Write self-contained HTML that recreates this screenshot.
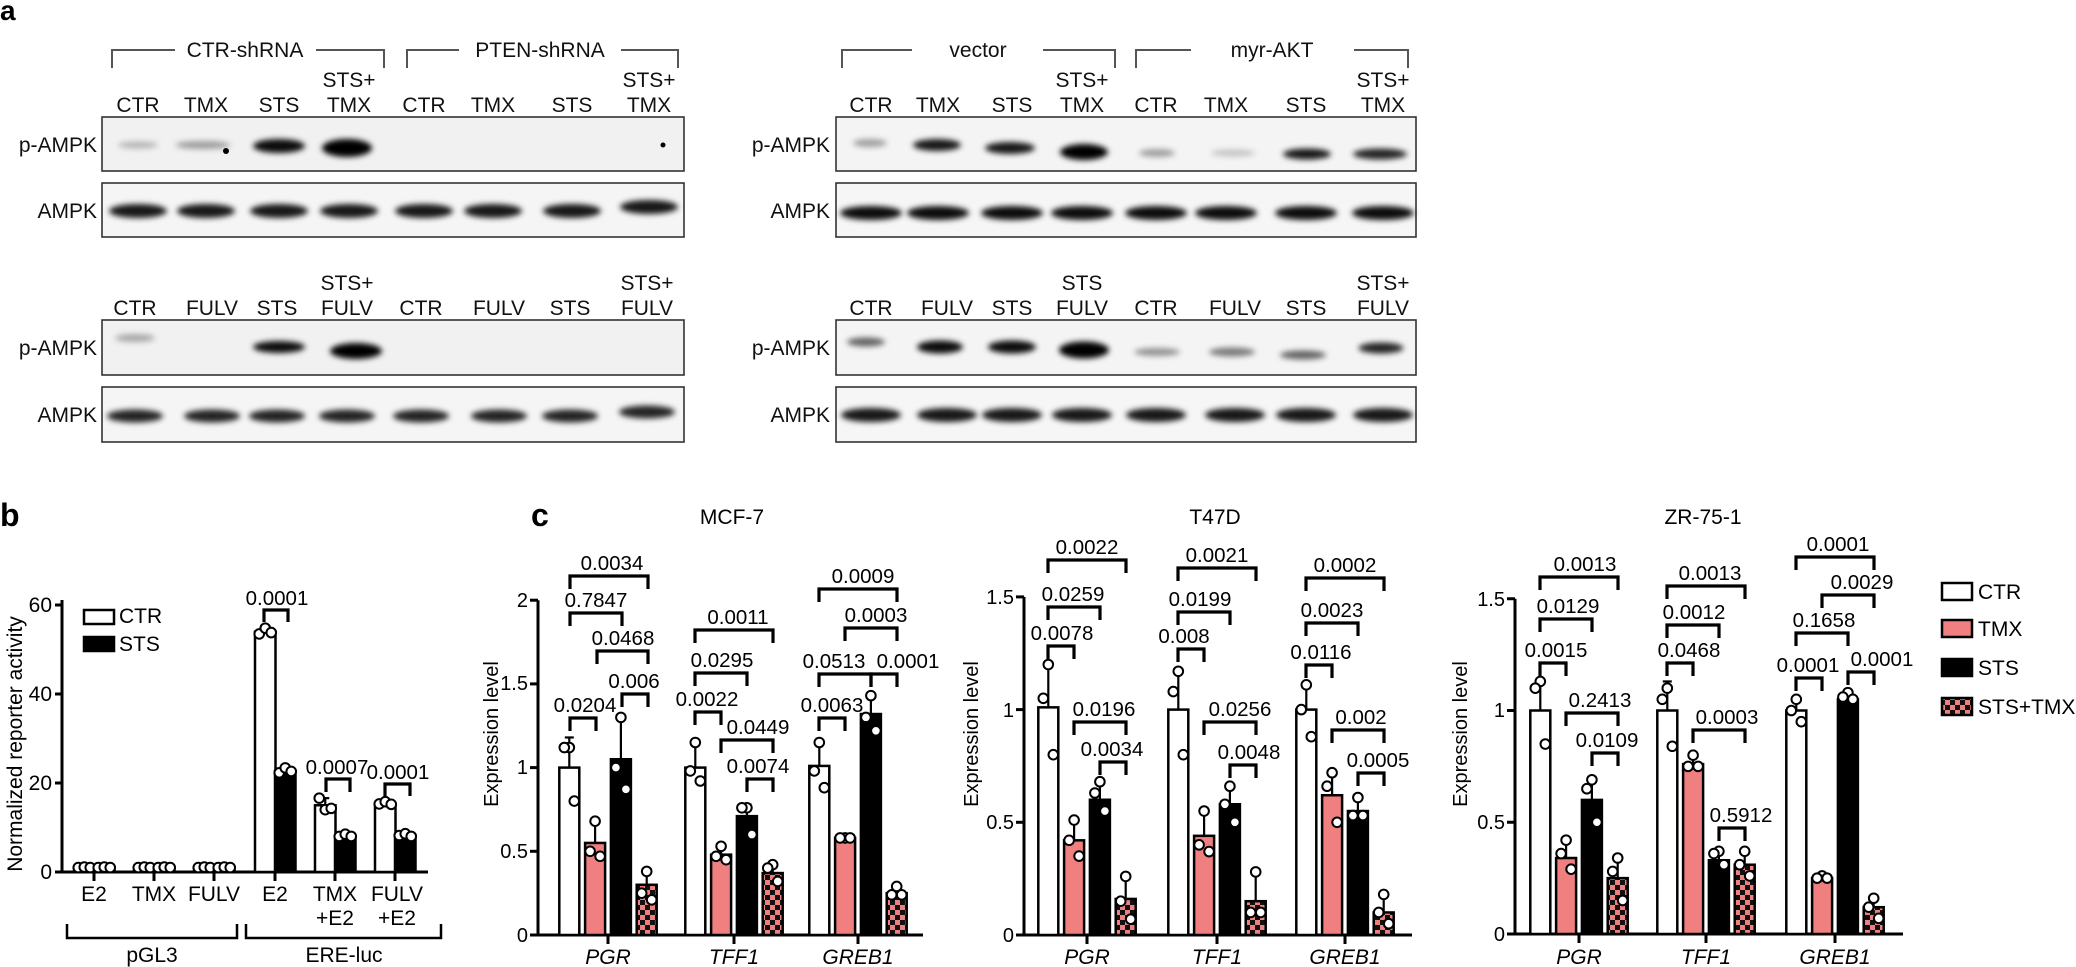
<!DOCTYPE html>
<html><head><meta charset="utf-8"><style>
html,body{margin:0;padding:0;background:#fff;}
svg{display:block;font-family:"Liberation Sans",Arial,sans-serif;}
</style></head><body>
<svg id="s" width="2076" height="967" viewBox="0 0 2076 967" xmlns="http://www.w3.org/2000/svg">
<defs>
<filter id="bl" x="-50%" y="-100%" width="200%" height="300%"><feGaussianBlur stdDeviation="2.8"/></filter>
<pattern id="chk" width="10" height="10" patternUnits="userSpaceOnUse">
<rect width="10" height="10" fill="#f08080"/><rect width="5" height="5" fill="#111"/><rect x="5" y="5" width="5" height="5" fill="#111"/>
</pattern>
</defs>
<g id="g"></g>
<text x="0" y="20" font-size="28" font-weight="bold">a</text>
<text x="0" y="526" font-size="32" font-weight="bold">b</text>
<text x="531" y="526" font-size="32" font-weight="bold">c</text>

<g font-size="21" text-anchor="middle" fill="#111">
<text x="245" y="57">CTR-shRNA</text><text x="540" y="57">PTEN-shRNA</text>
<text x="978" y="57">vector</text><text x="1272" y="57">myr-AKT</text>
<text x="349" y="87">STS+</text><text x="649" y="87">STS+</text>
<text x="1082" y="87">STS+</text><text x="1383" y="87">STS+</text>
<text x="138" y="112">CTR</text><text x="206" y="112">TMX</text><text x="279" y="112">STS</text><text x="349" y="112">TMX</text>
<text x="424" y="112">CTR</text><text x="493" y="112">TMX</text><text x="572" y="112">STS</text><text x="649" y="112">TMX</text>
<text x="871" y="112">CTR</text><text x="938" y="112">TMX</text><text x="1012" y="112">STS</text><text x="1082" y="112">TMX</text>
<text x="1156" y="112">CTR</text><text x="1226" y="112">TMX</text><text x="1306" y="112">STS</text><text x="1383" y="112">TMX</text>
<text x="347" y="290">STS+</text><text x="647" y="290">STS+</text>
<text x="1082" y="290">STS</text><text x="1383" y="290">STS+</text>
<text x="135" y="315">CTR</text><text x="212" y="315">FULV</text><text x="277" y="315">STS</text><text x="347" y="315">FULV</text>
<text x="421" y="315">CTR</text><text x="499" y="315">FULV</text><text x="570" y="315">STS</text><text x="647" y="315">FULV</text>
<text x="871" y="315">CTR</text><text x="947" y="315">FULV</text><text x="1012" y="315">STS</text><text x="1082" y="315">FULV</text>
<text x="1156" y="315">CTR</text><text x="1235" y="315">FULV</text><text x="1306" y="315">STS</text><text x="1383" y="315">FULV</text>
</g>
<g font-size="21" text-anchor="end" fill="#111">
<text x="97" y="152">p-AMPK</text><text x="97" y="218">AMPK</text>
<text x="97" y="355">p-AMPK</text><text x="97" y="422">AMPK</text>
<text x="830" y="152">p-AMPK</text><text x="830" y="218">AMPK</text>
<text x="830" y="355">p-AMPK</text><text x="830" y="422">AMPK</text>
</g>

<g font-size="21" text-anchor="end">
<text x="52" y="879">0</text><text x="52" y="790">20</text><text x="52" y="701">40</text><text x="52" y="612">60</text>
</g>
<text transform="translate(22,744) rotate(-90)" font-size="21" text-anchor="middle">Normalized reporter activity</text>
<g font-size="21" text-anchor="middle">
<text x="94" y="901">E2</text><text x="154" y="901">TMX</text><text x="214" y="901">FULV</text>
<text x="275" y="901">E2</text><text x="335" y="901">TMX</text><text x="397" y="901">FULV</text>
<text x="335" y="925">+E2</text><text x="397" y="925">+E2</text>
<text x="152" y="962">pGL3</text><text x="344" y="962">ERE-luc</text>
</g>
<g font-size="21"><text x="119" y="623">CTR</text><text x="119" y="651">STS</text></g>
<g font-size="20.5" text-anchor="middle">
<text x="277" y="605">0.0001</text><text x="337" y="774">0.0007</text><text x="398" y="779">0.0001</text>
</g>

<g font-size="21" text-anchor="middle">
<text x="732" y="524">MCF-7</text><text x="1215" y="524">T47D</text><text x="1703" y="524">ZR-75-1</text>
</g>
<g font-size="20" text-anchor="middle">
<text transform="translate(498,734) rotate(-90)">Expression level</text>
<text transform="translate(978,734) rotate(-90)">Expression level</text>
<text transform="translate(1467,734) rotate(-90)">Expression level</text>
</g>
<g font-size="20" text-anchor="end">
<text x="528" y="942">0</text><text x="528" y="858">0.5</text><text x="528" y="774">1</text><text x="528" y="690">1.5</text><text x="528" y="607">2</text>
<text x="1014" y="942">0</text><text x="1014" y="829">0.5</text><text x="1014" y="717">1</text><text x="1014" y="604">1.5</text>
<text x="1505" y="941">0</text><text x="1505" y="829">0.5</text><text x="1505" y="717">1</text><text x="1505" y="606">1.5</text>
</g>
<g font-size="21" font-style="italic" text-anchor="middle">
<text x="608" y="964">PGR</text><text x="734" y="964">TFF1</text><text x="858" y="964">GREB1</text>
<text x="1087" y="964">PGR</text><text x="1217" y="964">TFF1</text><text x="1345" y="964">GREB1</text>
<text x="1579" y="964">PGR</text><text x="1706" y="964">TFF1</text><text x="1835" y="964">GREB1</text>
</g>
<g font-size="20.5" text-anchor="middle">
<text x="612" y="570">0.0034</text><text x="596" y="607">0.7847</text><text x="623" y="645">0.0468</text><text x="634" y="688">0.006</text><text x="585" y="712">0.0204</text>
<text x="738" y="624">0.0011</text><text x="722" y="667">0.0295</text><text x="707" y="706">0.0022</text><text x="758" y="734">0.0449</text><text x="758" y="773">0.0074</text>
<text x="863" y="583">0.0009</text><text x="876" y="622">0.0003</text><text x="834" y="668">0.0513</text><text x="908" y="668">0.0001</text><text x="832" y="712">0.0063</text>
<text x="1087" y="554">0.0022</text><text x="1073" y="601">0.0259</text><text x="1062" y="640">0.0078</text><text x="1104" y="716">0.0196</text><text x="1112" y="756">0.0034</text>
<text x="1217" y="562">0.0021</text><text x="1200" y="606">0.0199</text><text x="1184" y="643">0.008</text><text x="1240" y="716">0.0256</text><text x="1249" y="759">0.0048</text>
<text x="1345" y="572">0.0002</text><text x="1332" y="617">0.0023</text><text x="1321" y="659">0.0116</text><text x="1361" y="724">0.002</text><text x="1378" y="767">0.0005</text>
<text x="1585" y="571">0.0013</text><text x="1568" y="613">0.0129</text><text x="1556" y="657">0.0015</text><text x="1600" y="707">0.2413</text><text x="1607" y="747">0.0109</text>
<text x="1710" y="580">0.0013</text><text x="1694" y="619">0.0012</text><text x="1689" y="657">0.0468</text><text x="1727" y="724">0.0003</text><text x="1741" y="822">0.5912</text>
<text x="1838" y="551">0.0001</text><text x="1862" y="589">0.0029</text><text x="1824" y="627">0.1658</text><text x="1808" y="672">0.0001</text><text x="1882" y="666">0.0001</text>
</g>
<g font-size="21">
<text x="1978" y="599">CTR</text><text x="1978" y="636">TMX</text><text x="1978" y="675">STS</text><text x="1978" y="714">STS+TMX</text>
</g>
</svg>
<script>
(function(){
var NS="http://www.w3.org/2000/svg",G=document.getElementById("g");
function el(t,a){var e=document.createElementNS(NS,t);for(var k in a)e.setAttribute(k,a[k]);G.appendChild(e);return e;}
function line(x1,y1,x2,y2,w,c){el("line",{x1:x1,y1:y1,x2:x2,y2:y2,stroke:c||"#000","stroke-width":w||2.5});}
function path(d,w,c){el("path",{d:d,fill:"none",stroke:c||"#000","stroke-width":w||2.5});}
function rect(x,y,w,h,f,sw){el("rect",{x:x,y:y,width:w,height:h,fill:f,stroke:"#000","stroke-width":sw||2.5});}
function dot(x,y){el("circle",{cx:x,cy:y,r:4.8,fill:"#fff",stroke:"#000","stroke-width":2});}
function brk(x1,x2,y,d){path("M"+x1+" "+(y+(d||13))+"V"+y+"H"+x2+"V"+(y+(d||13)),3.2);}
function box(x,y,w,h,bg){el("rect",{x:x,y:y,width:w,height:h,fill:bg,stroke:"#333","stroke-width":1.6});}
function band(cx,cy,w,h,o){el("ellipse",{cx:cx,cy:cy,rx:w/2,ry:h/2,fill:"#000","fill-opacity":o,filter:"url(#bl)"});}
box(102,117,582,54,"#f1f1f1");box(102,183,582,54,"#f5f5f5");
box(102,320,582,55,"#f1f1f1");box(102,387,582,55,"#f5f5f5");
box(836,117,580,54,"#f4f4f4");box(836,183,580,54,"#f6f6f6");
box(836,320,580,55,"#f4f4f4");box(836,387,580,55,"#f6f6f6");
[[138,145,40,7,.25],[203,145,55,8,.35],[279,146,52,14,.95],[347,148,50,18,1]].forEach(function(b){band(b[0],b[1],b[2],b[3],b[4]);});
el("circle",{cx:226,cy:151,r:3,fill:"#000"});el("circle",{cx:663,cy:145,r:2.5,fill:"#000"});
[138,206,279,349,424,493,572,649].forEach(function(x,i){band(x,i==7?207:211,58,14,.9);});
[[135,338,40,8,.3],[279,347,52,12,.95],[356,351,52,16,1]].forEach(function(b){band(b[0],b[1],b[2],b[3],b[4]);});
[135,212,277,347,421,499,570,647].forEach(function(x,i){band(x,i==7?412:416,56,13,.85);});
[[870,143,34,8,.35],[937,145,48,12,.9],[1010,148,50,12,.9],[1084,152,48,16,1],[1157,153,36,8,.35],[1233,153,44,7,.2],[1307,154,48,11,.9],[1380,154,54,11,.85]].forEach(function(b){band(b[0],b[1],b[2],b[3],b[4]);});
[871,938,1012,1082,1156,1226,1306,1383].forEach(function(x){band(x,213,62,14,.95);});
[[866,342,38,9,.6],[940,347,46,13,.95],[1012,347,48,13,.95],[1084,350,50,17,1],[1157,352,46,8,.4],[1232,352,46,9,.5],[1303,355,46,9,.6],[1381,348,45,11,.85]].forEach(function(b){band(b[0],b[1],b[2],b[3],b[4]);});
[871,947,1012,1082,1156,1235,1306,1383].forEach(function(x){band(x,415,60,14,.9);});
var gc="#555";
path("M112 68V50H175",2,gc);path("M316 50H384V68",2,gc);
path("M407 68V50H459",2,gc);path("M621 50H678V68",2,gc);
path("M842 68V50H912",2,gc);path("M1043 50H1115V68",2,gc);
path("M1136 68V50H1191",2,gc);path("M1354 50H1408V68",2,gc);
var b0=872,bs=4.45;function by(v){return b0-v*bs;}
line(62,600,62,873.5,3);line(61,872,428,872,3);
[0,20,40,60].forEach(function(v){line(55,by(v),62,by(v),3);});
var bt=[94,154,214,275,335,395];bt.forEach(function(x){line(x,872,x,881,3);});
var bm=[[1,1],[1,1],[1,1],[54,22.7],[15,8],[15.3,8.2]],btop=[[1.1,1.1],[1.1,1.1],[1.1,1.1],[54.8,23.4],[16.6,8.7],[15.8,8.8]];
var bd=[[[1,1.1,1],[1,1.1,1]],[[1,1.1,1],[1,1.1,1]],[[1,1.1,1],[1,1.1,1]],[[53.5,54.8,53.8],[22.3,23.4,22.6]],[[16.6,14,14.3],[8,8.5,8]],[[15.3,15.8,15.2],[8.2,8.6,8]]];
bt.forEach(function(t,i){
 [[t-20,"#fff"],[t,"#000"]].forEach(function(b,j){
  var x=b[0],w=20.5,y=by(bm[i][j]);
  rect(x,y,w,b0-y,b[1],2.5);
  var cx=x+w/2;line(cx,y,cx,by(btop[i][j]),2.2);line(cx-4,by(btop[i][j]),cx+4,by(btop[i][j]),2.2);
  bd[i][j].forEach(function(v,k){dot(cx-6+k*6,by(v));});
 });
});
brk(264,288,610,12);brk(326,350,779,13);brk(385,410,784,12);
rect(84,610,30,14,"#fff",2.5);rect(84,637,30,14,"#000",2.5);
path("M67 924V938H237V924",2.5);path("M246 924V938H441V924",2.5);
function chart(ax,aend,y0,s,vmax,ticks,data){
 line(ax,y0-vmax*s,ax,y0+1.5,3);line(ax-1.5,y0,aend,y0,3);
 for(var v=0;v<=vmax+1e-6;v+=0.5)line(ax-8,y0-v*s,ax,y0-v*s,3);
 var fills=["#fff","#f08080","#000","url(#chk)"],off=[-38.7,-12.9,12.9,38.7];
 ticks.forEach(function(t,g){
  line(t,y0,t,y0+9,3);
  var d=data[g];
  for(var j=0;j<4;j++){
   var cx=t+off[j],y=y0-d[0][j]*s,yt=y0-d[1][j]*s;
   rect(cx-10,y,20,y0-y,fills[j],2.5);
   line(cx,y,cx,yt,2.2);line(cx-4.5,yt,cx+4.5,yt,2.2);
   var ds=d[2][j],ox=[0,-5,5];
   ds.forEach(function(v,k){dot(cx+ox[k],y0-v*s);});
  }
 });
}
chart(538,923,935,167.4,2,[608,734,858],[
 [[1.0,0.55,1.05,0.30],[1.18,0.67,1.30,0.38],[[1.12,1.12,0.80],[0.68,0.50,0.47],[1.30,1.0,0.87],[0.38,0.25,0.21]]],
 [[1.0,0.48,0.71,0.37],[1.15,0.53,0.78,0.42],[[1.15,0.98,0.92],[0.53,0.47,0.45],[0.76,0.76,0.60],[0.42,0.40,0.32]]],
 [[1.01,0.58,1.32,0.25],[1.15,0.60,1.43,0.29],[[1.15,0.98,0.88],[0.58,0.58,0.58],[1.43,1.30,1.22],[0.29,0.24,0.24]]]]);
chart(1024,1412,935,225.4,1.5,[1087,1217,1345],[
 [[1.01,0.42,0.60,0.16],[1.21,0.51,0.68,0.26],[[1.20,1.05,0.80],[0.51,0.42,0.35],[0.68,0.63,0.55],[0.26,0.15,0.07]]],
 [[1.0,0.44,0.58,0.15],[1.17,0.55,0.66,0.29],[[1.17,1.08,0.80],[0.55,0.40,0.37],[0.66,0.58,0.50],[0.28,0.10,0.10]]],
 [[1.0,0.62,0.55,0.10],[1.11,0.72,0.61,0.18],[[1.11,1.0,0.88],[0.72,0.66,0.50],[0.61,0.53,0.53],[0.18,0.10,0.05]]]]);
chart(1515,1903,934,223.5,1.5,[1579,1706,1835],[
 [[1.0,0.34,0.60,0.25],[1.13,0.42,0.69,0.34],[[1.13,1.10,0.85],[0.42,0.36,0.29],[0.69,0.65,0.50],[0.34,0.28,0.15]]],
 [[1.0,0.76,0.33,0.31],[1.13,0.79,0.37,0.37],[[1.10,1.05,0.84],[0.80,0.75,0.75],[0.37,0.36,0.31],[0.37,0.31,0.26]]],
 [[1.0,0.25,1.05,0.12],[1.05,0.27,1.08,0.16],[[1.05,1.0,0.95],[0.26,0.25,0.25],[1.08,1.06,1.05],[0.16,0.12,0.07]]]]);
[[570,648,576],[570,622,613],[597,648,651],[622,648,694],[570,596,718],
 [695,773,630],[695,747,673],[695,721,712],[721,773,740],[747,773,779],
 [819,897,589],[845,897,628],[819,871,674],[871,897,674],[819,845,718],
 [1048,1126,560],[1048,1100,607],[1048,1074,646],[1074,1126,722],[1100,1126,762],
 [1178,1256,568],[1178,1230,612],[1178,1204,649],[1204,1256,722],[1230,1256,765],
 [1306,1384,578],[1306,1358,623],[1306,1332,665],[1332,1384,730],[1358,1384,773],
 [1540,1618,577],[1540,1592,619],[1540,1566,663],[1566,1618,713],[1592,1618,753],
 [1667,1745,586],[1667,1719,625],[1667,1693,663],[1693,1745,730],[1719,1745,828],
 [1796,1874,557],[1822,1874,595],[1796,1848,633],[1796,1822,678],[1848,1874,672]].forEach(function(b){brk(b[0],b[1],b[2]);});
rect(1942,583,30,17,"#fff",2.5);rect(1942,620,30,17,"#f08080",2.5);rect(1942,659,30,17,"#000",2.5);rect(1942,698,30,17,"url(#chk)",2.5);
})();
</script>
</body></html>
